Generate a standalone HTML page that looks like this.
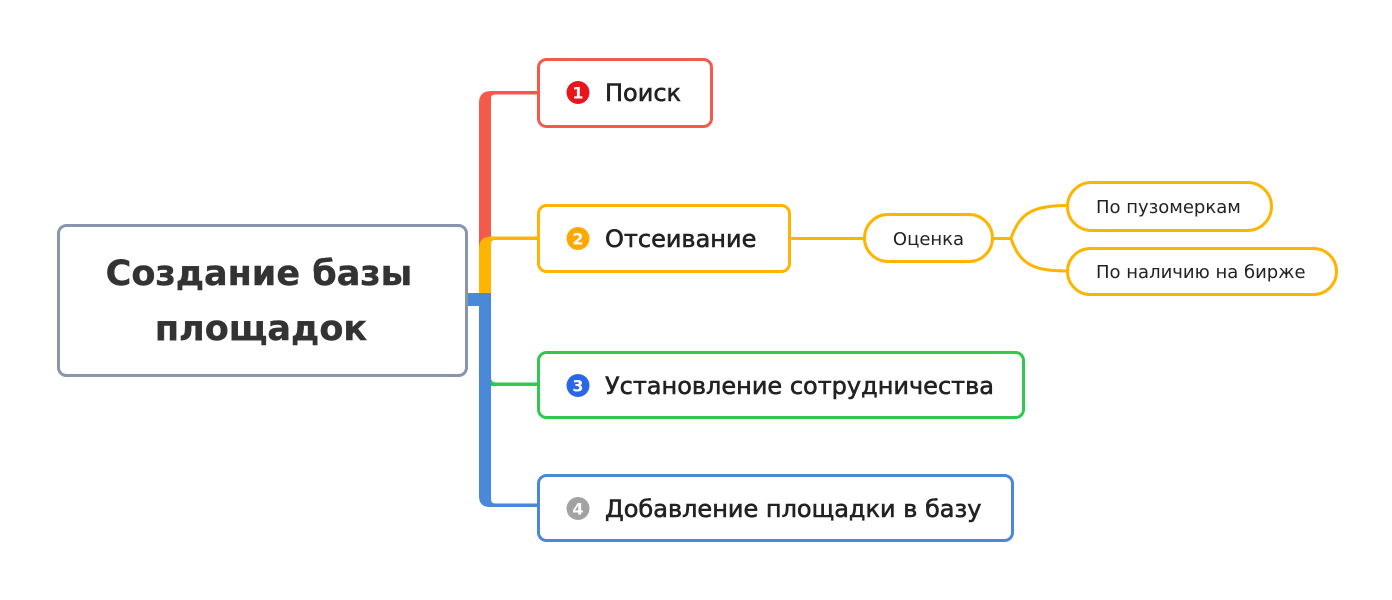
<!DOCTYPE html>
<html>
<head>
<meta charset="utf-8">
<style>
  html, body { margin: 0; padding: 0; background: #ffffff; }
  body { width: 1392px; height: 600px; overflow: hidden; }
  svg { display: block; }
  .t { font-family: "DejaVu Sans", "Liberation Sans", sans-serif; }
</style>
</head>
<body>
<svg width="1392" height="600" viewBox="0 0 1392 600" xmlns="http://www.w3.org/2000/svg">
  <rect x="0" y="0" width="1392" height="600" fill="#ffffff"/>

  <!-- Trunk: red segment -->
  <path d="M479,250 L479,103 Q479,91 491,91 L537,91 L537,94.5 L495,94.5 Q491,94.5 491,98.5 L491,250 Z" fill="#F35A4C"/>
  <!-- Trunk: orange segment -->
  <path d="M479,294 L479,249 Q479,236.5 491,236.5 L537,236.5 L537,240 L495,240 Q491,240 491,244 L491,294 Z" fill="#FFB400"/>
  <!-- Trunk: blue segment with stub from central node -->
  <path d="M466,293 L491,293 L491,499 Q491,503.5 495.5,503.5 L537,503.5 L537,507 L490,507 Q479,507 479,496 L479,306 L466,306 Z" fill="#4A88DA"/>
  <!-- Green connector -->
  <path d="M491,377 Q491,382.5 496,382.5 L537,382.5 L537,386 L491,386 Z" fill="#30C850"/>

  <!-- Central node -->
  <rect x="58.5" y="225.5" width="408" height="150" rx="8" ry="8" fill="#ffffff" stroke="#8796AE" stroke-width="3"/>
  <text class="t" x="259" y="285" text-anchor="middle" font-size="35" font-weight="bold" fill="#333333" stroke="#333333" stroke-width="0.4">Создание базы</text>
  <text class="t" x="261" y="340" text-anchor="middle" font-size="35" font-weight="bold" fill="#333333" stroke="#333333" stroke-width="0.4">площадок</text>

  <!-- Branch 1: Поиск -->
  <rect x="538.5" y="59.5" width="173" height="67" rx="8" ry="8" fill="#ffffff" stroke="#F35A4C" stroke-width="3"/>
  <circle cx="578" cy="92.5" r="11.5" fill="#E8161B"/>
  <text class="t" x="578" y="98.5" text-anchor="middle" font-size="16" font-weight="bold" fill="#ffffff">1</text>
  <text class="t" x="605" y="101" font-size="24" fill="#222222" stroke="#222222" stroke-width="0.6">Поиск</text>

  <!-- Branch 2: Отсеивание -->
  <rect x="538.5" y="205.5" width="251" height="66" rx="8" ry="8" fill="#ffffff" stroke="#FFB400" stroke-width="3"/>
  <circle cx="578" cy="238.5" r="11.5" fill="#FFA800"/>
  <text class="t" x="578" y="244.5" text-anchor="middle" font-size="16" font-weight="bold" fill="#ffffff">2</text>
  <text class="t" x="605" y="247" font-size="24" fill="#222222" stroke="#222222" stroke-width="0.6">Отсеивание</text>

  <!-- Отсеивание -> Оценка -->
  <line x1="790" y1="238.5" x2="864" y2="238.5" stroke="#FFB400" stroke-width="3"/>
  <rect x="864.5" y="214.5" width="128" height="47" rx="23.5" ry="23.5" fill="#ffffff" stroke="#FFB400" stroke-width="3"/>
  <text class="t" x="928.5" y="245" text-anchor="middle" font-size="18" fill="#222222">Оценка</text>

  <!-- Оценка -> sub nodes -->
  <path d="M993,238.5 L1011,238.5" stroke="#FFB400" stroke-width="3" fill="none"/>
  <path d="M1011,238.5 C1020,212 1034,205.5 1068,205.5" stroke="#FFB400" stroke-width="3" fill="none"/>
  <path d="M1011,238.5 C1020,265 1034,271 1068,271" stroke="#FFB400" stroke-width="3" fill="none"/>

  <rect x="1067.5" y="182.5" width="204" height="48" rx="24" ry="24" fill="#ffffff" stroke="#FFB400" stroke-width="3"/>
  <text class="t" x="1096" y="213" font-size="18" fill="#222222">По пузомеркам</text>

  <rect x="1067.5" y="248.5" width="269" height="46" rx="23" ry="23" fill="#ffffff" stroke="#FFB400" stroke-width="3"/>
  <text class="t" x="1096" y="278" font-size="18" fill="#222222">По наличию на бирже</text>

  <!-- Branch 3 -->
  <rect x="538.5" y="352.5" width="485" height="65" rx="8" ry="8" fill="#ffffff" stroke="#30C850" stroke-width="3"/>
  <circle cx="578" cy="385.5" r="11.5" fill="#2966E8"/>
  <text class="t" x="578" y="391.5" text-anchor="middle" font-size="16" font-weight="bold" fill="#ffffff">3</text>
  <text class="t" x="605" y="394" font-size="24" fill="#222222" stroke="#222222" stroke-width="0.6">Установление сотрудничества</text>

  <!-- Branch 4 -->
  <rect x="538.5" y="475.5" width="474" height="65" rx="8" ry="8" fill="#ffffff" stroke="#4A88DA" stroke-width="3"/>
  <circle cx="578" cy="508.5" r="11.5" fill="#A2A2A2"/>
  <text class="t" x="578" y="514.5" text-anchor="middle" font-size="16" font-weight="bold" fill="#ffffff">4</text>
  <text class="t" x="605" y="517" font-size="24" fill="#222222" stroke="#222222" stroke-width="0.6">Добавление площадки в базу</text>
</svg>
</body>
</html>
